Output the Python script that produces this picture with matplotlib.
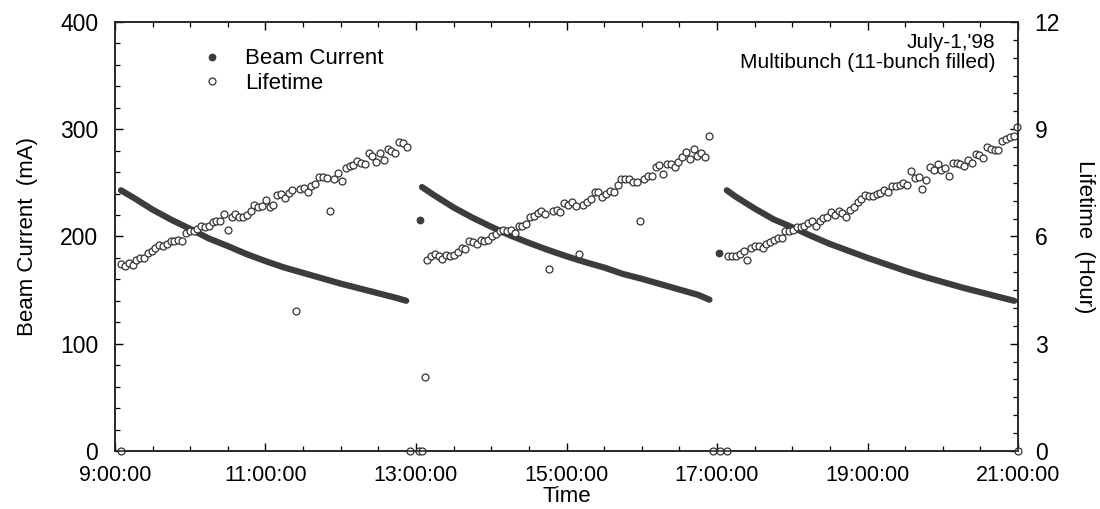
import matplotlib
matplotlib.use("Agg")
import matplotlib.pyplot as plt
import numpy as np
from matplotlib.ticker import MultipleLocator, FuncFormatter
from matplotlib.lines import Line2D

plt.rcParams['font.family'] = ['Liberation Sans', 'DejaVu Sans']

# beam current readings (decimal hour, mA) for the three fills
fill1_t = [9.08, 9.25, 9.5, 9.75, 10.0, 10.25, 10.5, 10.75, 11.0, 11.25, 11.5, 11.75, 12.0, 12.25, 12.5, 12.75, 12.87]
fill1_i = [243, 236, 225, 215.5, 207, 198, 191, 183.5, 177, 171, 166, 161, 156, 151.5, 147, 142.5, 140]
fill2_t = [13.08, 13.25, 13.5, 13.75, 14.0, 14.25, 14.5, 14.75, 15.0, 15.25, 15.5, 15.75, 16.0, 16.25, 16.5, 16.75, 16.9]
fill2_i = [246, 238, 227, 217.5, 209, 201, 194, 187.5, 181.5, 176, 171, 165, 160.5, 155.5, 150.5, 145.5, 141]
fill3_t = [17.13, 17.25, 17.5, 17.75, 18.0, 18.25, 18.5, 18.75, 19.0, 19.25, 19.5, 19.75, 20.0, 20.25, 20.5, 20.75, 20.95]
fill3_i = [243, 237, 226, 216, 208.5, 200.5, 193, 186.5, 180, 174, 168, 162.5, 157.5, 152.5, 148, 143.5, 140]

# stray current readings logged during injection
stray_t = [13.05, 17.03]
stray_i = [215, 185]

# lifetime log (hours), one reading per scan
SCAN_SEC = 182
life1_start = 9 + 5 / 60
life1 = [5.22, 5.17, 5.27, 5.20, 5.34, 5.41, 5.41, 5.53, 5.60, 5.67, 5.76, 5.72, 5.78, 5.87, 5.87,
         5.90, 5.87, 6.09, 6.14, 6.16, 6.20, 6.28, 6.26, 6.29, 6.39, 6.43, 6.42, 6.62, 6.18, 6.53,
         6.63, 6.53, 6.55, 6.60, 6.72, 6.88, 6.83, 6.85, 7.02, 6.82, 6.88, 7.16, 7.19, 7.07, 7.21,
         7.30, 3.92, 7.32, 7.35, 7.25, 7.41, 7.47, 7.65, 7.67, 7.63, 6.71, 7.61, 7.77, 7.56, 7.91,
         7.97, 8.00, 8.12, 8.05, 8.03, 8.33, 8.25, 8.07, 8.33, 8.14, 8.44, 8.40, 8.34, 8.63, 8.61, 8.51]
life2_start = 13 + 9 / 60
life2 = [5.34, 5.44, 5.50, 5.44, 5.36, 5.48, 5.46, 5.48, 5.56, 5.67, 5.65, 5.88, 5.84, 5.79, 5.90,
         5.88, 5.90, 6.00, 6.06, 6.16, 6.18, 6.16, 6.18, 6.09, 6.28, 6.29, 6.35, 6.55, 6.58, 6.65,
         6.71, 6.62, 5.08, 6.72, 6.74, 6.67, 6.93, 6.88, 6.97, 6.85, 5.50, 6.88, 6.96, 7.04, 7.23,
         7.23, 7.11, 7.19, 7.28, 7.24, 7.44, 7.61, 7.61, 7.61, 7.53, 7.51, 6.44, 7.61, 7.70, 7.70,
         7.95, 8.00, 7.75, 8.03, 8.02, 7.95, 8.09, 8.23, 8.35, 8.16, 8.45, 8.26, 8.33, 8.22, 8.81]
life3_start = 17 + 9 / 60
life3 = [5.44, 5.44, 5.46, 5.50, 5.60, 5.34, 5.69, 5.72, 5.74, 5.69, 5.78, 5.84, 5.90, 5.95, 5.97,
         6.16, 6.14, 6.18, 6.26, 6.26, 6.28, 6.37, 6.42, 6.30, 6.43, 6.51, 6.55, 6.69, 6.60, 6.72,
         6.65, 6.53, 6.74, 6.83, 6.97, 7.05, 7.16, 7.14, 7.13, 7.18, 7.21, 7.30, 7.25, 7.42, 7.42,
         7.44, 7.49, 7.44, 7.84, 7.63, 7.67, 7.33, 7.58, 7.95, 7.86, 8.03, 7.86, 7.91, 7.69, 8.05,
         8.05, 8.03, 7.98, 8.14, 8.05, 8.30, 8.28, 8.19, 8.49, 8.44, 8.42, 8.42, 8.68, 8.72, 8.79,
         8.82, 9.07]

# lifetime readings around the injections
inj_t = [9.08, 12.92, 13.04, 13.08, 13.12, 16.95, 17.04, 17.13, 21.0]
inj_life = [0, 0, 0, 0, 2.08, 0, 0, 0, 0]

dark = '#3c3c3c'


def scan_times(start, values):
    return start + np.arange(len(values)) * SCAN_SEC / 3600.0


fig = plt.figure(figsize=(11, 5.09), dpi=100)
ax = fig.add_axes([0.1045, 0.114, 0.8210, 0.843])
ax2 = ax.twinx()

for t, i in [(fill1_t, fill1_i), (fill2_t, fill2_i), (fill3_t, fill3_i)]:
    ax.plot(t, i, color=dark, lw=4.5, solid_capstyle='round', zorder=3)
ax.plot(stray_t, stray_i, 'o', color=dark, ms=4.6, zorder=3)

circ = dict(marker='o', ls='none', ms=5.0, mfc='white', mec='#333333', mew=0.9, clip_on=False)
for start, vals in [(life1_start, life1), (life2_start, life2), (life3_start, life3)]:
    ax2.plot(scan_times(start, vals), vals, **circ)
ax2.plot(inj_t, inj_life, **circ)

ax.set_xlim(9, 21)
ax.set_ylim(0, 400)
ax2.set_ylim(0, 12)

ax.xaxis.set_major_locator(MultipleLocator(2, offset=1))
ax.xaxis.set_minor_locator(MultipleLocator(0.5))
ax.xaxis.set_major_formatter(FuncFormatter(lambda v, p: '%d:00:00' % round(v)))
ax.yaxis.set_major_locator(MultipleLocator(100))
ax.yaxis.set_minor_locator(MultipleLocator(20))
ax2.yaxis.set_major_locator(MultipleLocator(3))
ax2.yaxis.set_minor_locator(MultipleLocator(0.5))

ax.tick_params(axis='x', which='both', direction='in', top=True, labelsize=15.5, pad=10)
ax.tick_params(axis='y', which='both', direction='in', labelsize=16.5, pad=12)
ax2.tick_params(axis='y', which='both', direction='in', labelsize=16.5, pad=12)
for a in (ax, ax2):
    a.tick_params(which='major', length=6, width=1)
    a.tick_params(which='minor', length=3.5, width=0.9)
    for s in a.spines.values():
        s.set_linewidth(1.1)
        s.set_color('#222222')

ax.set_xlabel('Time', fontsize=16, labelpad=0)
ax.set_ylabel('Beam Current  (mA)', fontsize=16, labelpad=16)
ax2.set_ylabel('Lifetime  (Hour)', fontsize=16, rotation=270, va='bottom', labelpad=10)

handles = [Line2D([], [], marker='o', ls='none', color=dark, ms=4.6),
           Line2D([], [], marker='o', ls='none', mfc='white', mec='#333333', mew=0.9, ms=5.0)]
ax.legend(handles, ['Beam Current', 'Lifetime'], loc='upper left', bbox_to_anchor=(0.073, 0.985),
          frameon=False, fontsize=16, handlelength=1.0, handletextpad=1.0, labelspacing=0.15)

ax.text(0.975, 0.975, "July-1,'98\nMultibunch (11-bunch filled)", transform=ax.transAxes,
        ha='right', va='top', multialignment='right', fontsize=15, linespacing=1.1)

fig.savefig('out.png', dpi=100)
